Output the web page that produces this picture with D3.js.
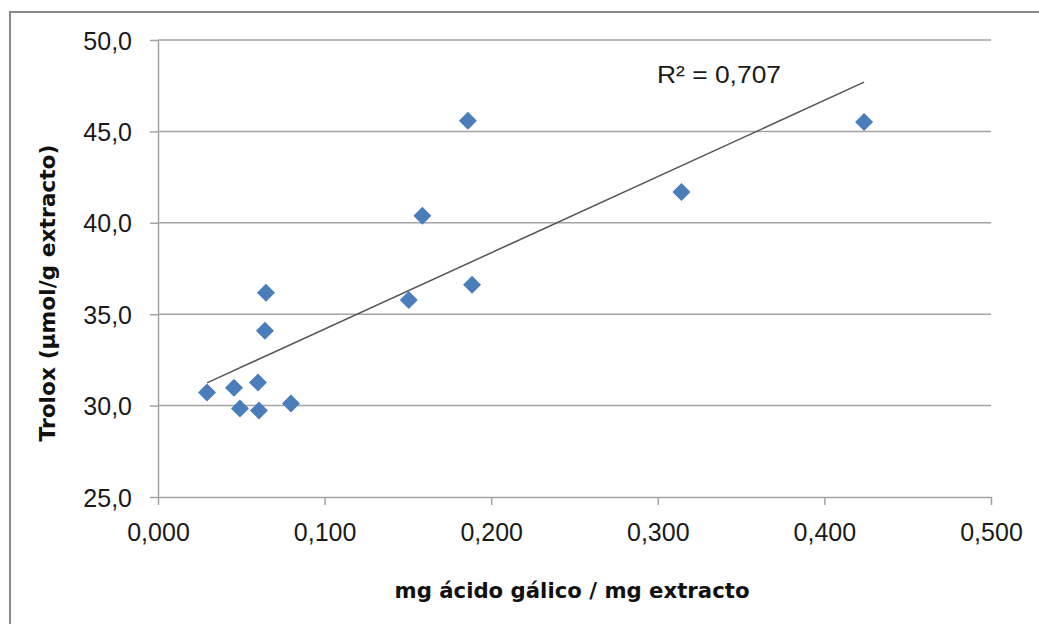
<!DOCTYPE html>
<html>
<head>
<meta charset="utf-8">
<script src="https://cdn.jsdelivr.net/npm/d3@7"></script>
<style>
  body { margin: 0; background: #fff; }
  .tick text { font-family: "Liberation Sans", Arial, sans-serif; font-size: 25px; fill: #1a1a1a; }
  .title { font-family: "Comic Sans MS", "DejaVu Sans", sans-serif; font-weight: bold; font-size: 22px; fill: #111; }
</style>
</head>
<body>
<svg id="chart" width="1039" height="624"></svg>
<script>
// values
var gallicAcid = [0.0294, 0.0456, 0.0492, 0.0600, 0.0606, 0.0642, 0.0648, 0.0798, 0.1505, 0.1587, 0.1860, 0.1885, 0.3142, 0.4238];
var trolox     = [30.71, 30.98, 29.84, 31.26, 29.73, 34.10, 36.17, 30.11, 35.78, 40.38, 45.58, 36.61, 41.69, 45.52];
var xTicks = [0, 0.1, 0.2, 0.3, 0.4, 0.5];
var yTicks = [25, 30, 35, 40, 45, 50];
var r2Label = 'R² = 0,707';
var xTitle = 'mg ácido gálico / mg extracto';
var yTitle = 'Trolox (µmol/g extracto)';

var svg = d3.select('#chart');
var margin = {left: 158, top: 40, right: 48, bottom: 127};
var width = 1039 - margin.left - margin.right;
var height = 624 - margin.top - margin.bottom;

var locale = d3.formatLocale({decimal: ',', thousands: '.', grouping: [3], currency: ['', '€']});

// outer chart frame (runs off the right and bottom of the picture)
svg.append('rect')
  .attr('x', 10).attr('y', 12)
  .attr('width', 1200).attr('height', 800)
  .attr('fill', 'none')
  .attr('stroke', '#8a8a8a')
  .attr('stroke-width', 2);

var g = svg.append('g').attr('transform', 'translate(' + margin.left + ',' + margin.top + ')');

var x = d3.scaleLinear().domain([0, 0.5]).range([0, width]);
var y = d3.scaleLinear().domain([25, 50]).range([height, 0]);

// horizontal gridlines
g.append('g').selectAll('line')
  .data(yTicks.filter(function(d){ return d > 25; }))
  .enter().append('line')
    .attr('x1', 0).attr('x2', width)
    .attr('y1', function(d){ return y(d); })
    .attr('y2', function(d){ return y(d); })
    .attr('stroke', '#a3a3a3')
    .attr('stroke-width', 1.5);

// axes
var yAxis = g.append('g')
  .call(d3.axisLeft(y).tickValues(yTicks).tickSize(8).tickSizeOuter(0).tickPadding(18)
    .tickFormat(locale.format('.1f')));

var xAxis = g.append('g')
  .attr('transform', 'translate(0,' + height + ')')
  .call(d3.axisBottom(x).tickValues(xTicks).tickSize(8).tickSizeOuter(0).tickPadding(17)
    .tickFormat(locale.format('.3f')));

[yAxis, xAxis].forEach(function(ax){
  ax.select('.domain').attr('stroke', '#a3a3a3').attr('stroke-width', 1.5);
  ax.selectAll('.tick line').attr('stroke', '#a3a3a3').attr('stroke-width', 1.5);
});
yAxis.selectAll('.tick text').attr('dy', '0.36em');
xAxis.selectAll('.tick text').attr('dy', '0.76em');

// linear trendline (least squares)
var n = gallicAcid.length;
var mx = d3.mean(gallicAcid), my = d3.mean(trolox);
var sxy = 0, sxx = 0;
for (var i = 0; i < n; i++) {
  sxy += (gallicAcid[i] - mx) * (trolox[i] - my);
  sxx += (gallicAcid[i] - mx) * (gallicAcid[i] - mx);
}
var slope = sxy / sxx;
var intercept = my - slope * mx;
var xExt = d3.extent(gallicAcid);

g.append('line')
  .attr('x1', x(xExt[0])).attr('y1', y(intercept + slope * xExt[0]))
  .attr('x2', x(xExt[1])).attr('y2', y(intercept + slope * xExt[1]))
  .attr('stroke', '#555')
  .attr('stroke-width', 1.5);

// markers
var diamond = d3.symbol().type(d3.symbolSquare).size(162);
g.append('g').selectAll('path')
  .data(d3.range(n))
  .enter().append('path')
    .attr('d', diamond)
    .attr('transform', function(i){
      return 'translate(' + x(gallicAcid[i]) + ',' + y(trolox[i]) + ') rotate(45)';
    })
    .attr('fill', '#4a7ebb');

// R² label
svg.append('text')
  .attr('x', 657).attr('y', 83)
  .attr('textLength', 124)
  .attr('lengthAdjust', 'spacingAndGlyphs')
  .style('font-family', '"Liberation Sans", Arial, sans-serif')
  .style('font-size', '24px')
  .style('fill', '#1a1a1a')
  .text(r2Label);

// axis titles
svg.append('text')
  .attr('class', 'title')
  .attr('x', 572).attr('y', 598)
  .attr('text-anchor', 'middle')
  .attr('textLength', 355)
  .attr('lengthAdjust', 'spacingAndGlyphs')
  .text(xTitle);

svg.append('text')
  .attr('class', 'title')
  .attr('transform', 'translate(55,293) rotate(-90)')
  .attr('text-anchor', 'middle')
  .attr('textLength', 297)
  .attr('lengthAdjust', 'spacingAndGlyphs')
  .text(yTitle);
</script>
</body>
</html>
